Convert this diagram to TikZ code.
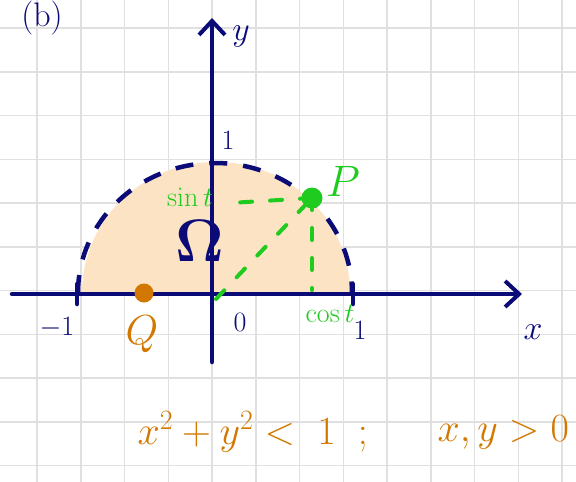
\RequirePackage{fix-cm}
\documentclass[tikz,border=0pt]{standalone}
\usetikzlibrary{arrows.meta}
\definecolor{navy}{HTML}{0B0B78}
\definecolor{pgreen}{HTML}{1ECB1E}
\definecolor{porange}{HTML}{D27800}
\definecolor{peach}{HTML}{FCE3C4}
\definecolor{gridgray}{HTML}{E0E0E0}
\begin{document}
\begin{tikzpicture}[x=1pt,y=-1pt,
  gridline/.style={gridgray,line width=1.5pt},
  axis/.style={navy,line width=4.5pt,line cap=round,-{Straight Barb[length=14pt,width=26pt,line width=4pt]}},
  tickline/.style={navy,line width=4.5pt,line cap=round},
  gdash/.style={pgreen,line width=4pt,line cap=round,dash pattern=on 12pt off 18pt},
  navylabel/.style={navy,font=\fontsize{34}{34}\selectfont},
  smalllabel/.style={navy,font=\fontsize{28}{28}\selectfont},
  greenlabel/.style={pgreen,font=\fontsize{28}{28}\selectfont},
  orangelabel/.style={porange,font=\fontsize{40}{40}\selectfont},
  dot/.style={circle,inner sep=0pt,minimum size=21pt}]
\useasboundingbox (0,0) rectangle (576,482);
\fill[white] (0,0) rectangle (576,482);
% grid
\foreach \i in {0,...,12} \draw[gridline] ({37+43.75*\i},0) -- ({37+43.75*\i},482);
\foreach \j in {0,...,10} \draw[gridline] (0,{28+43.75*\j}) -- (576,{28+43.75*\j});
% region
\fill[peach] (82,293) arc[start angle=180,end angle=360,x radius=134,y radius=131] -- cycle;
\draw[navy,line width=4.5pt,dash pattern=on 18pt off 16pt] (78,293) arc[start angle=180,end angle=360,x radius=137,y radius=130];
% axes
\coordinate (xl) at (12,294);
\coordinate (xr) at (522,294);
\coordinate (yb) at (212,362);
\coordinate (yt) at (212,18);
\draw[axis] (xl) -- (xr);
\draw[axis] (yb) -- (yt);
% ticks
\coordinate (t1a) at (353,284);
\coordinate (t1b) at (353,304);
\draw[tickline] (t1a) -- (t1b);
\coordinate (tm1a) at (77,284);
\coordinate (tm1b) at (77,304);
\draw[tickline] (tm1a) -- (tm1b);
% labels
\node[navylabel] (blbl) at (42,18) {$\mathrm{(b)}$};
\node[navylabel] (ylbl) at (241,36) {$y$};
\node[navylabel] (xlbl) at (533,332) {$x$};
\node[smalllabel] (one_y) at (228,140) {$1$};
\node[smalllabel] (one_x) at (360,330) {$1$};
\node[smalllabel] (mone) at (57,328) {$-1$};
\node[smalllabel] (zero) at (240,322) {$0$};
\node[navy,font=\fontsize{60}{60}\selectfont,inner sep=0pt] (omega) at (200,241) {$\mathbf{\Omega}$};
% points
\node[dot,fill=pgreen] (P) at (312,198) {};
\node[pgreen,font=\fontsize{44}{44}\selectfont] (Plbl) at (343,181) {$P$};
\node[dot,fill=porange,minimum size=19pt] (Q) at (144,293) {};
\node[porange,font=\fontsize{42}{42}\selectfont] (Qlbl) at (142,334) {$Q$};
% projections
\node[greenlabel,inner sep=1pt] (sinlbl) at (190,197) {$\sin t$};
\node[greenlabel] (coslbl) at (330,314) {$\cos t$};
\coordinate (sy) at (230,203);
\coordinate (cx) at (312,290);
\coordinate (O) at (216,299);
\draw[gdash] (P.center) -- (sy);
\draw[gdash] (P.center) -- (cx);
\draw[gdash] (O) -- (P.center);
% condition
\node[orangelabel,anchor=west] (cond1) at (134,432) {$x^2+y^2<\;1\;\;;$};
\node[orangelabel,anchor=west] (cond2) at (434,432) {$x,y>0$};
\end{tikzpicture}
\end{document}
